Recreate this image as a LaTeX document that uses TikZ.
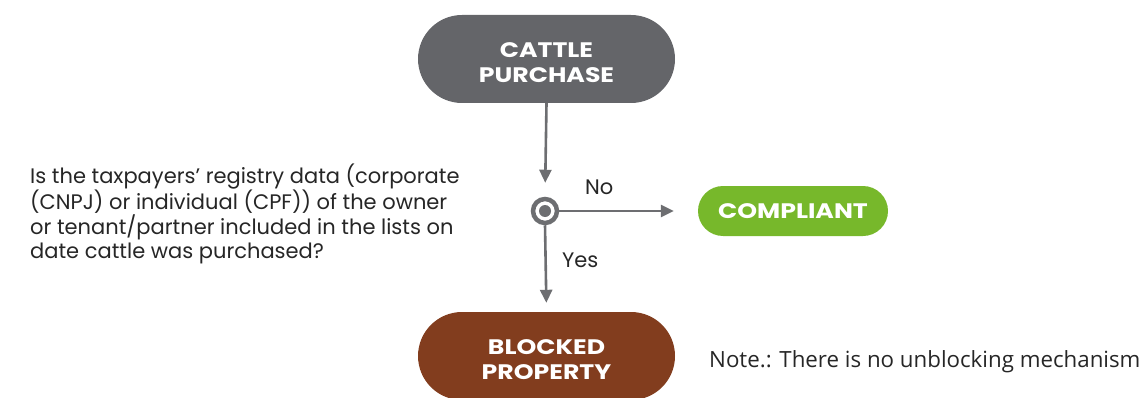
\documentclass[tikz,border=0pt]{standalone}
\usepackage{fontspec}
\setmainfont{Poppins}
\newfontfamily\notefont{Open Sans}
\newfontfamily\boldwide[FakeStretch=1.2]{Poppins Bold}
\usetikzlibrary{arrows.meta,shapes.misc}
\definecolor{boxgray}{HTML}{646569}
\definecolor{linegray}{HTML}{6D6E71}
\definecolor{okgreen}{HTML}{77B82B}
\definecolor{blockbrown}{HTML}{823D1E}
\tikzset{
  term/.style={rounded rectangle, minimum width=257pt, minimum height=88pt, inner sep=0pt},
  termtext/.style={text=white, font=\boldwide\fontsize{21}{24.5}\selectfont, align=center, inner sep=0pt},
  flow/.style={draw=linegray, line width=2.6pt, -{Triangle[length=13pt,width=12pt]}},
  lbl/.style={text=black!85, font=\fontsize{21}{24.5}\selectfont, inner sep=0pt},
}
\begin{document}
\begin{tikzpicture}[x=1pt,y=-1pt]
\useasboundingbox (0,0) rectangle (1147,398);
\node[term, fill=boxgray] (cp) at (546.5,59) {};
\node[termtext] (cpt) at ([yshift=-3.5pt]cp.center) {CATTLE\\PURCHASE};
\node[term, fill=blockbrown] (bp) at (546.5,356) {};
\node[termtext] (bpt) at ([yshift=-3.5pt]bp.center) {BLOCKED\\PROPERTY};
\node[rounded rectangle, fill=okgreen, minimum width=190pt, minimum height=50pt, inner sep=0pt] (ok) at (793,211) {};
\node[termtext] (okt) at (ok.center) {COMPLIANT};
\node[circle, draw=linegray, line width=4.5pt, fill=white, minimum size=24pt, inner sep=0pt] (dec) at (545,211) {};
\fill[linegray] (dec.center) circle (6pt);
\draw[flow, shorten >=14pt] (cp.south) -- (dec.north);
\draw[flow, shorten >=24pt] (dec.east) -- (dec.east -| ok.west);
\draw[flow, shorten >=9pt] (dec.south) -- (bp.north);
\node[lbl, anchor=base west] (no) at (585,194) {No};
\node[lbl, anchor=base west] (yes) at (562,267) {Yes};
\node[lbl, anchor=base west, align=left] (q) at (30,258.5) {Is the taxpayers’ registry data (corporate\\(CNPJ) or individual (CPF)) of the owner\\or tenant/partner included in the lists on\\date cattle was purchased?};
\node[anchor=west, inner sep=0pt, font=\notefont\fontsize{22.3}{24}\selectfont, text=black!85] (note) at (709,362) {Note.: There is no unblocking mechanism};
\end{tikzpicture}
\end{document}
